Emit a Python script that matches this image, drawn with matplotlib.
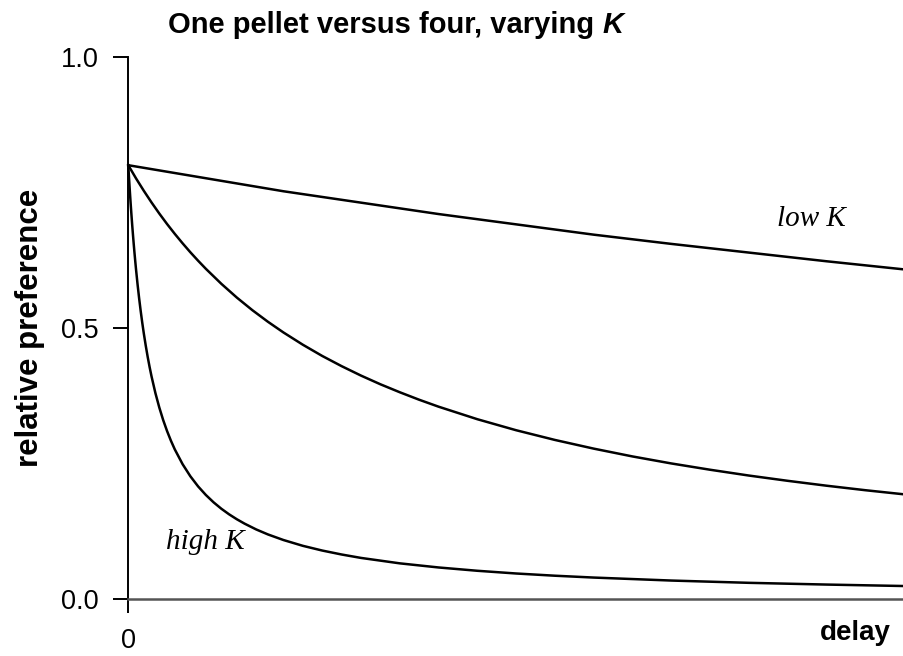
"""Relative preference for four delayed pellets over one, for three values of K."""

import matplotlib.pyplot as plt

# delay (arbitrary units) and relative preference read for each curve
low_delay = [0, 10, 20, 30, 40, 50, 60, 70, 80, 90, 100]
low_pref = [0.800, 0.776, 0.752, 0.731, 0.710, 0.691, 0.672, 0.655, 0.639, 0.623, 0.608]

mid_delay = [0, 1, 2, 3, 4, 5, 6, 7, 8, 9, 10, 12, 14, 16, 18, 20, 22.5, 25, 27.5,
             30, 32.5, 35, 37.5, 40, 45, 50, 55, 60, 65, 70, 75, 80, 85, 90, 95, 100]
mid_pref = [0.8000, 0.7757, 0.7529, 0.7313, 0.7109, 0.6916, 0.6734, 0.6561, 0.6396,
            0.6240, 0.6091, 0.5814, 0.5560, 0.5328, 0.5115, 0.4918, 0.4692, 0.4485,
            0.4297, 0.4123, 0.3963, 0.3816, 0.3678, 0.3550, 0.3319, 0.3116, 0.2937,
            0.2777, 0.2633, 0.2504, 0.2388, 0.2281, 0.2184, 0.2094, 0.2011, 0.1935]

high_delay = [0, 0.1, 0.2, 0.3, 0.4, 0.5, 0.6, 0.7, 0.8, 0.9, 1.0, 1.2, 1.4, 1.6, 1.8,
              2.0, 2.25, 2.5, 2.75, 3.0, 3.5, 4.0, 4.5, 5, 5.5, 6, 7, 8, 9, 10, 11, 12,
              13, 14, 15, 16.5, 18, 20, 22.5, 25, 27.5, 30, 35, 40, 45, 50, 55, 60, 70,
              80, 90, 100]
high_pref = [0.8000, 0.7755, 0.7524, 0.7307, 0.7102, 0.6908, 0.6725, 0.6551, 0.6386,
             0.6229, 0.6079, 0.5800, 0.5546, 0.5313, 0.5099, 0.4902, 0.4676, 0.4469,
             0.4280, 0.4107, 0.3799, 0.3534, 0.3303, 0.3101, 0.2922, 0.2762, 0.2491,
             0.2268, 0.2081, 0.1923, 0.1787, 0.1669, 0.1566, 0.1475, 0.1394, 0.1287,
             0.1196, 0.1093, 0.0986, 0.0899, 0.0826, 0.0763, 0.0663, 0.0587, 0.0526,
             0.0476, 0.0435, 0.0401, 0.0346, 0.0304, 0.0272, 0.0245]

y_ticks = [0.0, 0.5, 1.0]
y_ticklabels = ["0.0", "0.5", "1.0"]

SANS = ["Liberation Sans", "DejaVu Sans"]
SERIF = ["Liberation Serif", "DejaVu Serif"]

fig = plt.figure(figsize=(9.04, 6.56), dpi=100)
ax = fig.add_axes([0.1419, 0.0864, 0.8581, 0.8272])

for xs, ys in [(low_delay, low_pref), (mid_delay, mid_pref), (high_delay, high_pref)]:
    ax.plot(xs, ys, color="black", linewidth=1.8, solid_joinstyle="round", clip_on=False)

ax.set_xlim(0, 100)
ax.set_ylim(0, 1)

for side in ("top", "right"):
    ax.spines[side].set_visible(False)
ax.spines["left"].set_color("black")
ax.spines["left"].set_linewidth(1.4)
ax.spines["bottom"].set_color("#555555")
ax.spines["bottom"].set_linewidth(1.8)

ax.set_yticks(y_ticks)
ax.set_yticklabels(y_ticklabels, fontsize=19.5, family=SANS)
ax.set_xticks([0])
ax.set_xticklabels(["0"], fontsize=19.5, family=SANS)
ax.tick_params(axis="y", direction="out", length=11, width=1.4, pad=10, color="black")
ax.tick_params(axis="x", direction="out", length=10, width=1.4, pad=11, color="black")

# curve labels
ax.text(88, 0.70, "low K", fontsize=21, family=SERIF, style="italic", ha="center", va="center")
ax.text(9.9, 0.105, "high K", fontsize=21, family=SERIF, style="italic", ha="center", va="center")

ax.set_ylabel("relative preference", fontsize=22.5, fontweight="bold", family=SANS, labelpad=12)
fig.text(0.985, 0.035, "delay", fontsize=20, fontweight="bold", family=SANS, ha="right", va="center")

# title: bold upright text followed by bold italic K
title = fig.text(0.186, 0.962, "One pellet versus four, varying ", fontsize=21,
                 fontweight="bold", family=SANS, ha="left", va="center")
renderer = fig.canvas.get_renderer()
bb = title.get_window_extent(renderer=renderer)
fig.text(bb.x1 / fig.bbox.width, 0.962, "K", fontsize=21, fontweight="bold",
         style="italic", family=SANS, ha="left", va="center")

fig.savefig("out.png", dpi=100)
